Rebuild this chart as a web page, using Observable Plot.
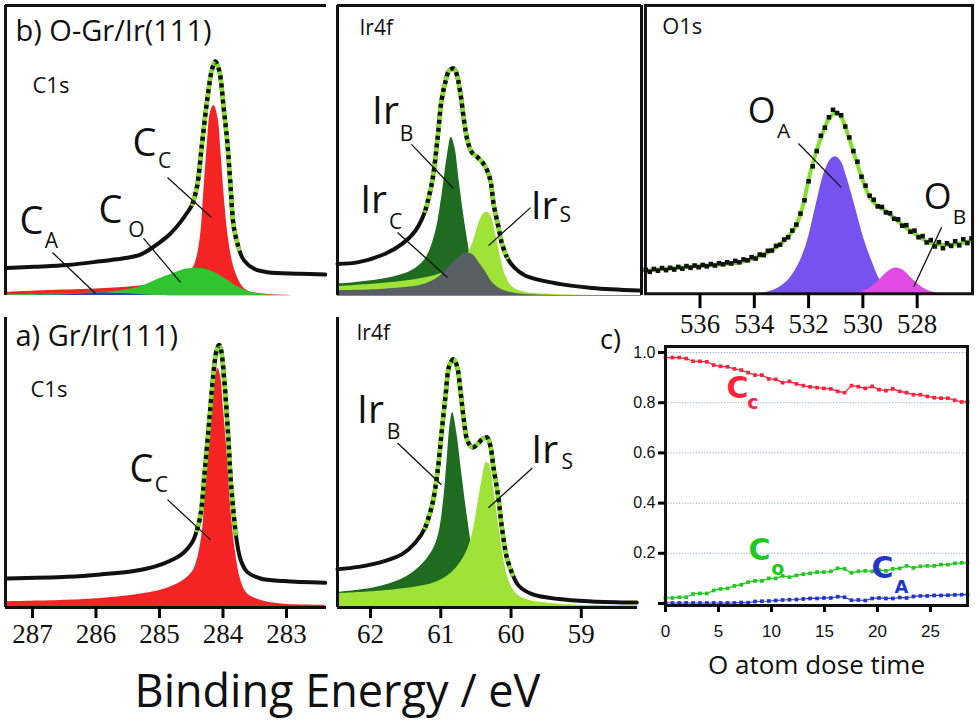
<!DOCTYPE html>
<html><head><meta charset="utf-8">
<script src="https://cdn.jsdelivr.net/npm/d3@7"></script>
<script src="https://cdn.jsdelivr.net/npm/@observablehq/plot@0.6"></script>
<style>
body{margin:0;background:#fff;}
#chart{position:relative;width:980px;height:720px;overflow:hidden;background:#fff;}
.panel{position:absolute;}
.panel svg{overflow:visible;background:transparent;}
#xlabel{position:absolute;left:0;width:675px;top:664px;height:52px;line-height:52px;text-align:center;font-family:"Open Sans",sans-serif;font-size:45px;color:#111;}
</style></head><body><div id="chart"><div id="xlabel">Binding Energy / eV</div></div>
<script>
// ---------- C1s, O-Gr/Ir(111) (top left) ----------
const c1sTopEnvE = [287.40,286.98,286.45,285.93,285.51,285.30,285.14,284.99,284.83,284.67,284.56,284.48,284.41,284.33,284.25,284.17,284.12,284.06,283.99,283.93,283.88,283.83,283.75,283.67,283.51,283.30,282.78,282.39];
const c1sTopEnv  = [9.5,9.9,10.5,11.8,13.0,14.1,16.1,18.4,21.3,25.3,28.7,31.6,37.4,52.3,67.3,78.2,80.7,77.6,64.9,52.3,37.4,23.6,16.1,12.1,9.2,8.0,7.5,7.2];
const ccTopE = [287.40,286.72,285.93,285.40,285.09,284.83,284.62,284.48,284.41,284.35,284.30,284.25,284.19,284.14,284.08,284.03,283.98,283.91,283.83,283.72,283.62,283.41,283.04,282.39];
const ccTop  = [1.1,1.7,2.3,3.1,3.8,4.8,6.6,9.2,13.2,21.3,36.2,51.1,63.8,65.5,61.5,48.9,34.0,19.0,9.8,4.0,1.7,0.6,0.1,0];
const coTopE = [287.40,286.45,285.93,285.51,285.25,285.04,284.83,284.62,284.46,284.30,284.14,283.99,283.83,283.67,283.46,283.20,282.39];
const coTop  = [0.3,0.6,1.0,2.0,3.4,5.4,7.2,8.9,9.4,9.1,8.0,6.1,3.8,2.0,0.6,0.1,0];
const caTopE = [287.40,286.60,286.20,285.93,285.60,285.30,285.00,282.39];
const caTop  = [0,0.2,0.6,0.9,0.7,0.3,0,0];

// ---------- C1s, Gr/Ir(111) (bottom left) ----------
const c1sBotEnvE = [287.40,286.45,285.93,285.40,285.09,284.83,284.62,284.48,284.41,284.35,284.29,284.22,284.15,284.10,284.06,284.03,283.98,283.92,283.87,283.80,283.72,283.62,283.41,283.04,282.39];
const c1sBotEnv  = [10.0,10.6,11.4,12.6,14.0,16.1,18.9,22.7,26.7,32.4,46.2,63.4,80.7,88.7,90.5,88.7,78.4,60.0,41.6,25.5,16.3,12.3,10.0,9.1,8.5];
const ccBotE = [287.40,286.45,285.93,285.40,285.09,284.83,284.62,284.48,284.41,284.33,284.28,284.21,284.14,284.08,284.04,283.99,283.93,283.87,283.80,283.72,283.62,283.41,283.04,282.39];
const ccBot  = [2.0,2.5,3.1,4.3,5.4,7.1,9.4,12.3,16.1,25.3,39.1,60.0,76.1,82.4,80.1,68.0,51.9,32.4,18.6,9.4,4.8,2.5,1.1,0.8];

// ---------- Ir4f, O-Gr/Ir(111) (top middle) ----------
const irTopEnvE = [62.47,62.17,61.79,61.55,61.36,61.22,61.12,61.05,60.99,60.93,60.88,60.81,60.77,60.72,60.67,60.62,60.56,60.48,60.41,60.34,60.29,60.25,60.18,60.13,60.06,59.96,59.80,59.32,58.85,58.18];
const irTopEnv  = [10.9,11.5,14.4,17.8,22.4,29.3,39.7,53.4,67.2,74.1,77.6,78.2,75.9,69.5,60.3,53.4,49.4,47.7,46.0,43.1,39.1,31.6,23.6,17.8,13.2,9.8,6.9,4.0,2.6,1.7];
const irBTopE = [62.47,62.17,61.69,61.41,61.22,61.08,60.98,60.91,60.85,60.80,60.74,60.67,60.61,60.55,60.41,60.17,59.80,58.18];
const irBTop  = [4.0,4.6,6.3,8.6,12.6,21.3,35.1,47.7,54.6,51.1,39.7,27.0,17.8,9.8,4.0,1.1,0.3,0];
const irSTopE = [62.47,61.93,61.45,61.08,60.84,60.65,60.55,60.46,60.39,60.34,60.29,60.22,60.15,60.08,59.98,59.80,59.32,58.18];
const irSTop  = [3.1,4.0,5.2,6.9,9.2,13.2,17.8,24.7,28.2,28.7,27.6,21.3,13.2,6.9,2.9,1.1,0.3,0];
const irCTopE = [62.47,61.93,61.45,61.22,61.03,60.89,60.77,60.65,60.55,60.46,60.36,60.27,60.13,59.89,59.32,58.18];
const irCTop  = [1.7,2.0,2.9,4.0,6.3,9.8,12.6,14.7,14.1,11.5,8.0,4.6,2.0,0.6,0,0];

// ---------- Ir4f, Gr/Ir(111) (bottom middle) ----------
const irBotEnvE = [62.47,62.17,61.79,61.55,61.36,61.22,61.12,61.05,60.99,60.93,60.88,60.82,60.77,60.72,60.67,60.62,60.55,60.48,60.41,60.34,60.29,60.25,60.18,60.13,60.06,59.98,59.89,59.70,59.32,58.85,58.21];
const irBotEnv  = [13.2,14.0,16.1,18.4,22.4,27.6,35.6,46.0,59.8,73.6,83.3,85.6,83.3,74.7,64.4,57.5,55.2,56.3,58.0,58.6,55.2,48.3,37.9,27.6,17.2,11.5,7.5,4.6,2.9,2.1,1.7];
const irBBotE = [62.47,61.93,61.55,61.31,61.12,61.03,60.96,60.91,60.86,60.83,60.77,60.70,60.62,60.55,60.41,60.17,59.80,58.21];
const irBBot  = [5.2,6.9,9.8,13.8,19.5,25.3,36.8,50.6,64.4,67.2,59.8,46.0,31.0,20.7,11.5,5.2,1.7,0.2];
const irSBotE = [62.47,61.93,61.45,61.08,60.84,60.65,60.55,60.48,60.41,60.35,60.31,60.25,60.17,60.10,60.03,59.94,59.80,59.32,58.21];
const irSBot  = [4.8,5.5,6.7,8.6,12.1,18.4,25.3,34.5,44.3,50.0,49.4,41.4,27.6,16.1,9.2,5.2,2.9,1.1,0.6];

// ---------- O1s (top right) ----------
const o1sFitE = [537.95,536.98,535.76,534.53,533.92,533.31,532.83,532.46,532.21,531.97,531.73,531.48,531.24,531.00,530.81,530.57,530.26,530.02,529.77,529.53,529.16,528.80,528.43,528.06,527.70,527.33,526.96,526.60,525.99];
const o1sFit  = [8.0,8.9,9.8,10.9,12.6,15.3,19.0,23.6,30.5,40.8,48.9,55.7,60.9,62.6,61.5,55.7,46.6,39.7,33.9,31.0,28.7,25.9,23.0,20.7,18.4,17.2,16.9,17.2,18.4];
const o1sDataE = [538.00,537.85,537.70,537.55,537.40,537.25,537.10,536.95,536.80,536.65,536.50,536.35,536.20,536.05,535.90,535.75,535.60,535.45,535.30,535.15,535.00,534.85,534.70,534.55,534.40,534.25,534.10,533.95,533.80,533.65,533.50,533.35,533.20,533.05,532.90,532.75,532.60,532.45,532.30,532.15,532.00,531.85,531.70,531.55,531.40,531.25,531.10,530.95,530.80,530.65,530.50,530.35,530.20,530.05,529.90,529.75,529.60,529.45,529.30,529.15,529.00,528.85,528.70,528.55,528.40,528.25,528.10,527.95,527.80,527.65,527.50,527.35,527.20,527.05,526.90,526.75,526.60,526.45,526.30,526.15,526.00];
const o1sData  = [8.3,7.6,8.6,8.0,8.9,8.2,9.0,8.4,9.3,8.7,9.6,9.0,9.8,9.2,10.0,9.5,10.3,9.8,10.6,10.2,10.9,10.5,11.4,10.9,11.9,11.6,12.7,12.2,13.6,13.4,14.9,15.0,16.6,17.0,18.8,19.6,21.9,24.0,27.8,32.4,39.0,44.2,49.5,54.8,57.6,61.2,63.8,62.7,61.9,58.0,54.2,49.5,45.8,40.6,37.5,34.0,32.6,30.3,30.1,28.2,27.9,26.0,25.8,23.6,23.8,21.5,21.9,19.6,20.0,17.8,18.6,16.4,17.9,15.8,17.5,16.6,18.2,16.8,18.9,17.6,19.2];
const oAE = [533.80,533.31,532.83,532.46,532.09,531.73,531.42,531.18,531.00,530.81,530.57,530.26,529.96,529.65,529.35,528.92,528.43];
const oA  = [0,1.1,4.0,8.6,16.7,30.5,42.0,46.6,47.5,46.0,39.7,29.3,19.0,10.9,4.6,1.1,0];
const oBE = [530.26,529.77,529.41,529.10,528.80,528.49,528.19,527.82,527.45,527.09];
const oB  = [0,1.7,4.6,7.5,8.9,8.0,5.2,2.3,0.6,0];

// ---------- c) O atom dose time series ----------
const doseTime = [0,0.65,1.3,1.95,2.6,3.25,3.9,4.55,5.2,5.85,6.5,7.15,7.8,8.45,9.1,9.75,10.4,11.05,11.7,12.35,13,13.65,14.3,14.95,15.6,16.25,16.9,17.55,18.2,18.85,19.5,20.15,20.8,21.45,22.1,22.75,23.4,24.05,24.7,25.35,26,26.65,27.3,27.95,28.5];
const fracCc = [0.98,0.98,0.98,0.976,0.965,0.965,0.963,0.95,0.945,0.943,0.935,0.93,0.92,0.91,0.91,0.895,0.893,0.88,0.885,0.875,0.868,0.863,0.86,0.857,0.855,0.845,0.84,0.868,0.864,0.857,0.865,0.852,0.848,0.855,0.845,0.84,0.832,0.832,0.825,0.82,0.818,0.818,0.81,0.803,0.803];
const fracCo = [0.022,0.022,0.025,0.025,0.038,0.04,0.04,0.052,0.058,0.06,0.07,0.075,0.085,0.09,0.09,0.1,0.1,0.11,0.105,0.112,0.117,0.12,0.125,0.125,0.128,0.14,0.138,0.122,0.128,0.13,0.128,0.133,0.13,0.138,0.14,0.15,0.142,0.148,0.15,0.15,0.155,0.155,0.16,0.162,0.162];
const fracCa = [0.003,0.002,0.002,0.002,0.002,0.002,0.002,0.002,0.002,0.002,0.002,0.004,0.003,0.008,0.009,0.01,0.012,0.014,0.015,0.016,0.018,0.02,0.02,0.022,0.022,0.027,0.025,0.013,0.014,0.012,0.02,0.022,0.02,0.02,0.024,0.022,0.028,0.03,0.03,0.032,0.032,0.033,0.034,0.035,0.035];

const c1sTicks = [287,286,285,284,283];
const ir4fTicks = [62,61,60,59];
const o1sTicks = [536,534,532,530,528];
const doseTicks = [0,5,10,15,20,25];
const fracTicks = [0,0.2,0.4,0.6,0.8,1.0];

// ---------- helpers ----------
const rows = (xs, ys) => xs.map((x, i) => ({x, y: ys[i]}));
const chart = document.getElementById("chart");
function place(svg, left, top) {
  const d = document.createElement("div");
  d.className = "panel";
  d.style.left = left + "px";
  d.style.top = top + "px";
  d.appendChild(svg);
  chart.appendChild(d);
}
const INK = "#111";
const SANS = "Open Sans";
const NARROW = "Liberation Sans Narrow";
const FIT = "#84e030";
const CURVE = "catmull-rom";
const intFmt = d => String(d);

function annot(list, big, small) {
  const marks = [];
  for (const a of list) {
    marks.push(Plot.link([a], {x1: "lx1", y1: "ly1", x2: "lx2", y2: "ly2", stroke: INK, strokeWidth: 1.3}));
    marks.push(Plot.text([a], {x: "x", y: "y", text: "label", fontSize: big, fontFamily: SANS, fill: INK, textAnchor: "middle", lineAnchor: "middle"}));
    marks.push(Plot.text([a], {x: "sx", y: "sy", text: "sub", fontSize: small, fontFamily: SANS, fill: INK, textAnchor: "middle", lineAnchor: "middle"}));
  }
  return marks;
}
function envelope(env, lo, hi, w) {
  const steep = env.filter(d => d.x >= lo && d.x <= hi);
  return [
    Plot.lineY(env, {x: "x", y: "y", stroke: INK, strokeWidth: w, curve: CURVE}),
    Plot.lineY(steep, {x: "x", y: "y", stroke: FIT, strokeWidth: w + 0.6, curve: CURVE}),
    Plot.lineY(steep, {x: "x", y: "y", stroke: INK, strokeWidth: w + 0.4, strokeDasharray: "4,4", strokeLinecap: "butt", curve: CURVE})
  ];
}
function label(text, dx, dy, size) {
  return Plot.text([text], {text: d => d, frameAnchor: "top-left", dx, dy, fontSize: size, fontFamily: SANS, fill: INK, textAnchor: "start", lineAnchor: "middle"});
}

const c1sDomain = [287.425, 282.37];

// P1: C1s O-Gr
{
  const m = {l: 12, r: 6, t: 10, b: 10};
  const W = 321, H = 290;
  const svg = Plot.plot({
    width: W + m.l + m.r, height: H + m.t + m.b,
    marginLeft: m.l, marginRight: m.r, marginTop: m.t, marginBottom: m.b,
    x: {domain: c1sDomain, axis: null}, y: {domain: [0, 100], axis: null},
    marks: [
      Plot.areaY(rows(ccTopE, ccTop), {x: "x", y: "y", fill: "#f42424", curve: CURVE}),
      Plot.areaY(rows(coTopE, coTop), {x: "x", y: "y", fill: "#31c431", curve: CURVE}),
      Plot.areaY(rows(caTopE, caTop), {x: "x", y: "y", fill: "#2a3fc4", curve: CURVE}),
      ...envelope(rows(c1sTopEnvE, c1sTopEnv), 283.72, 284.52, 4),
      Plot.ruleX([c1sDomain[0]], {stroke: INK, strokeWidth: 3}),
      Plot.ruleY([100], {stroke: INK, strokeWidth: 3}),
      label("b) O-Gr/Ir(111)", 10, 26, 29),
      label("C1s", 27, 80, 22),
      ...annot([
        {label: "C", sub: "C", x: 285.236, y: 52.4, sx: 284.921, sy: 46.2, lx1: 284.874, ly1: 40.7, lx2: 284.181, ly2: 26.9},
        {label: "C", sub: "O", x: 285.772, y: 29.3, sx: 285.362, sy: 22.4, lx1: 285.252, ly1: 19.7, lx2: 284.669, ly2: 4.5},
        {label: "C", sub: "A", x: 287.016, y: 25.5, sx: 286.701, sy: 18.6, lx1: 286.685, ly1: 14.8, lx2: 286.008, ly2: 0.7}
      ], 38, 21)
    ]
  });
  place(svg, 5 - m.l, 5 - m.t);
}

// P2: Ir4f O-Gr
{
  const m = {l: 10, r: 6, t: 10, b: 10};
  const W = 304, H = 290;
  const svg = Plot.plot({
    width: W + m.l + m.r, height: H + m.t + m.b,
    marginLeft: m.l, marginRight: m.r, marginTop: m.t, marginBottom: m.b,
    x: {domain: [62.47, 58.145], axis: null}, y: {domain: [0, 100], axis: null},
    marks: [
      Plot.areaY(rows(irBTopE, irBTop), {x: "x", y: "y", fill: "#1f6b1f", curve: CURVE}),
      Plot.areaY(rows(irSTopE, irSTop), {x: "x", y: "y", fill: "#9fe338", curve: CURVE}),
      Plot.areaY(rows(irCTopE, irCTop), {x: "x", y: "y", fill: "#575e64", curve: CURVE}),
      ...envelope(rows(irTopEnvE, irTopEnv), 59.97, 61.3, 4),
      Plot.ruleY([0], {stroke: "#888", strokeWidth: 1}),
      Plot.ruleX([62.47], {stroke: INK, strokeWidth: 3}),
      Plot.ruleX([58.145], {stroke: INK, strokeWidth: 3}),
      Plot.ruleY([100], {stroke: INK, strokeWidth: 3}),
      label("Ir4f", 22, 23, 21),
      ...annot([
        {label: "Ir", sub: "B", x: 61.787, y: 63.4, sx: 61.488, sy: 55.5, lx1: 61.417, ly1: 52.1, lx2: 60.819, ly2: 36.9},
        {label: "Ir", sub: "C", x: 61.957, y: 32.8, sx: 61.644, sy: 25.2, lx1: 61.616, ly1: 21.7, lx2: 60.905, ly2: 6.2},
        {label: "Ir", sub: "S", x: 59.53, y: 30.7, sx: 59.23, sy: 27.5, lx1: 59.724, ly1: 30.3, lx2: 60.321, ly2: 17.2}
      ], 39, 21)
    ]
  });
  place(svg, 337 - m.l, 5 - m.t);
}

// P3: O1s
{
  const m = {l: 8, r: 8, t: 10, b: 50};
  const W = 329, H = 290;
  const svg = Plot.plot({
    width: W + m.l + m.r, height: H + m.t + m.b,
    marginLeft: m.l, marginRight: m.r, marginTop: m.t, marginBottom: m.b,
    style: {fontFamily: NARROW},
    x: {domain: [538.01, 525.96]}, y: {domain: [0, 100], axis: null},
    marks: [
      Plot.areaY(rows(oAE, oA), {x: "x", y: "y", fill: "#7852ee", curve: CURVE}),
      Plot.areaY(rows(oBE, oB), {x: "x", y: "y", fill: "#e24ae6", curve: CURVE}),
      Plot.lineY(rows(o1sFitE, o1sFit), {x: "x", y: "y", stroke: FIT, strokeWidth: 4, curve: CURVE}),
      Plot.dot(rows(o1sDataE, o1sData), {x: "x", y: "y", r: 2.6, symbol: "square", fill: INK}),
      Plot.frame({stroke: INK, strokeWidth: 3}),
      Plot.axisX({ticks: o1sTicks, tickFormat: intFmt, tickSize: 15, tickPadding: 5, fontSize: 27, strokeWidth: 3, label: null, fill: INK}),
      label("O1s", 17, 22, 22),
      ...annot([
        {label: "O", sub: "A", x: 533.729, y: 63.1, sx: 532.923, sy: 56.2, lx1: 532.374, ly1: 52.1, lx2: 530.799, ly2: 36.9},
        {label: "O", sub: "B", x: 527.245, y: 33.4, sx: 526.44, sy: 26.6, lx1: 527.099, ly1: 23.1, lx2: 528.125, ly2: 2.4}
      ], 36, 21)
    ]
  });
  place(svg, 645 - m.l, 5 - m.t);
}

// P4: C1s Gr
{
  const m = {l: 12, r: 6, t: 6, b: 50};
  const W = 321, H = 290;
  const svg = Plot.plot({
    width: W + m.l + m.r, height: H + m.t + m.b,
    marginLeft: m.l, marginRight: m.r, marginTop: m.t, marginBottom: m.b,
    style: {fontFamily: NARROW},
    x: {domain: c1sDomain}, y: {domain: [0, 100], axis: null},
    marks: [
      Plot.areaY(rows(ccBotE, ccBot), {x: "x", y: "y", fill: "#f42424", curve: CURVE}),
      ...envelope(rows(c1sBotEnvE, c1sBotEnv), 283.76, 284.45, 4),
      Plot.ruleX([c1sDomain[0]], {stroke: INK, strokeWidth: 3}),
      Plot.ruleY([0], {stroke: INK, strokeWidth: 3}),
      Plot.axisX({ticks: c1sTicks, tickFormat: intFmt, tickSize: 11, tickPadding: 5, fontSize: 27, strokeWidth: 3, label: null, fill: INK}),
      label("a) Gr/Ir(111)", 10, 19, 29),
      label("C1s", 25, 72, 22),
      ...annot([
        {label: "C", sub: "C", x: 285.283, y: 47.6, sx: 284.969, sy: 42.1, lx1: 284.874, ly1: 37.2, lx2: 284.197, ly2: 23.4}
      ], 38, 21)
    ]
  });
  place(svg, 5 - m.l, 317 - m.t);
}

// P5: Ir4f Gr
{
  const m = {l: 10, r: 6, t: 6, b: 50};
  const W = 300, H = 290;
  const svg = Plot.plot({
    width: W + m.l + m.r, height: H + m.t + m.b,
    marginLeft: m.l, marginRight: m.r, marginTop: m.t, marginBottom: m.b,
    style: {fontFamily: NARROW},
    x: {domain: [62.47, 58.2]}, y: {domain: [0, 100], axis: null},
    marks: [
      Plot.areaY(rows(irBBotE, irBBot), {x: "x", y: "y", fill: "#1f6b1f", curve: CURVE}),
      Plot.areaY(rows(irSBotE, irSBot), {x: "x", y: "y", fill: "#9fe338", curve: CURVE}),
      ...envelope(rows(irBotEnvE, irBotEnv), 59.95, 61.3, 4),
      Plot.ruleX([62.47], {stroke: INK, strokeWidth: 3}),
      Plot.ruleY([0], {stroke: INK, strokeWidth: 3}),
      Plot.axisX({ticks: ir4fTicks, tickFormat: intFmt, tickSize: 11, tickPadding: 5, fontSize: 27, strokeWidth: 3, label: null, fill: INK}),
      label("Ir4f", 19, 16, 21),
      ...annot([
        {label: "Ir", sub: "B", x: 62.0, y: 68.0, sx: 61.673, sy: 60.5, lx1: 61.616, ly1: 56.7, lx2: 60.99, ly2: 42.3},
        {label: "Ir", sub: "S", x: 59.52, y: 54.0, sx: 59.2, sy: 50.0, lx1: 59.696, ly1: 48.1, lx2: 60.321, ly2: 34.4}
      ], 39, 21)
    ]
  });
  place(svg, 337 - m.l, 317 - m.t);
}

// P6: c) fractions vs dose time
{
  const m = {l: 76, r: 10, t: 24, b: 80};
  const W = 302, H = 259;
  const series = [
    {vals: fracCc, color: "#ff2238"},
    {vals: fracCo, color: "#22c822"},
    {vals: fracCa, color: "#2436c8"}
  ];
  const marks = [Plot.gridY({ticks: [0.2, 0.4, 0.6, 0.8, 1.0], stroke: "#5a6ed8", strokeOpacity: 0.6, strokeDasharray: "1.2,1.6", strokeWidth: 1})];
  for (const s of series) {
    const data = rows(doseTime, s.vals);
    marks.push(Plot.line(data, {x: "x", y: "y", stroke: s.color, strokeWidth: 1.2}));
    marks.push(Plot.dot(data, {x: "x", y: "y", r: 2.1, symbol: "square", fill: s.color}));
  }
  const tag = (items, color) => items.map(it => Plot.text([it], {x: "x", y: "y", text: "t", fontSize: it.fs, fontWeight: "bold", fontFamily: "DejaVu Sans", fill: color, textAnchor: "middle", lineAnchor: "middle"}));
  marks.push(
    ...tag([{t: "C", x: 6.8, y: 0.857, fs: 30}, {t: "c", x: 8.25, y: 0.80, fs: 19}], "#ff2238"),
    ...tag([{t: "C", x: 8.87, y: 0.211, fs: 30}, {t: "o", x: 10.6, y: 0.139, fs: 19}], "#22c822"),
    ...tag([{t: "C", x: 20.47, y: 0.139, fs: 30}, {t: "A", x: 22.26, y: 0.064, fs: 18}], "#2436c8"),
    Plot.frame({stroke: INK, strokeWidth: 3}),
    Plot.axisY({ticks: fracTicks, tickFormat: d => d === 0 ? "" : d.toFixed(1), tickSize: 7, tickPadding: 3, fontSize: 16, strokeWidth: 3, label: null, fill: INK}),
    Plot.axisX({ticks: doseTicks, tickFormat: intFmt, tickSize: 7, tickPadding: 12, fontSize: 17, strokeWidth: 3, label: null, fill: INK}),
    Plot.text(["O atom dose time"], {text: d => d, frameAnchor: "bottom", dy: 60, fontSize: 26, fontFamily: SANS, fill: INK, lineAnchor: "middle"}),
    Plot.text(["c)"], {text: d => d, frameAnchor: "top-left", dx: -55, dy: -6, fontSize: 27, fontFamily: SANS, fill: INK, textAnchor: "middle", lineAnchor: "middle"})
  );
  const svg = Plot.plot({
    width: W + m.l + m.r, height: H + m.t + m.b,
    marginLeft: m.l, marginRight: m.r, marginTop: m.t, marginBottom: m.b,
    style: {fontFamily: "Liberation Sans"},
    x: {domain: [0, 28.5]}, y: {domain: [-0.008, 1.024]},
    marks
  });
  place(svg, 665 - m.l, 346 - m.t);
}
</script></body></html>
